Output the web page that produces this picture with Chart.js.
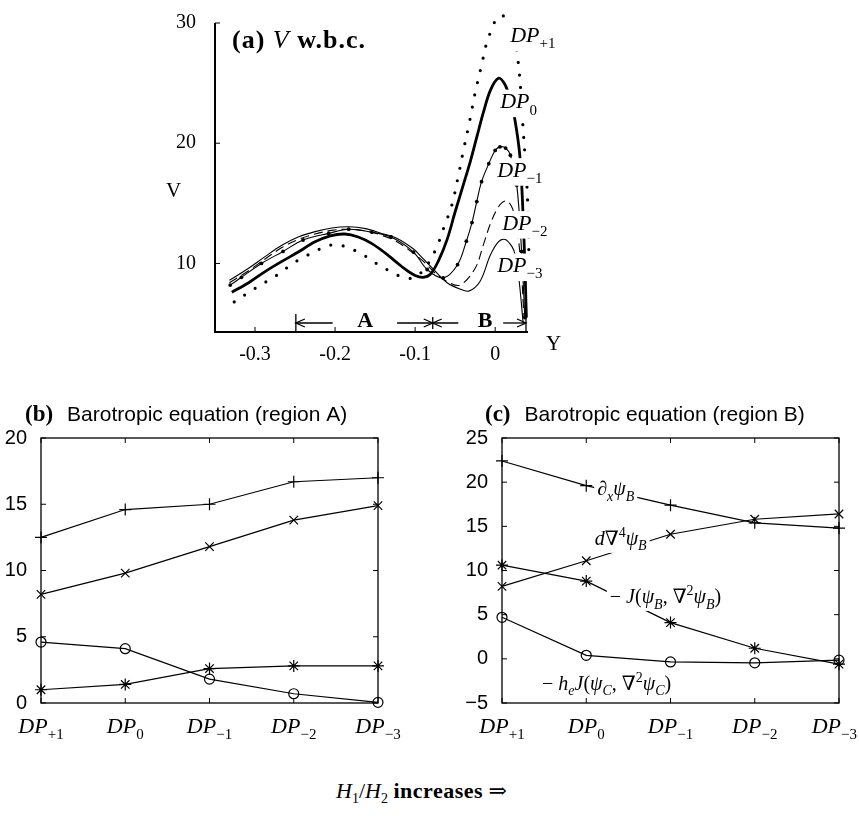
<!DOCTYPE html>
<html>
<head>
<meta charset="utf-8">
<script src="https://cdn.jsdelivr.net/npm/chart.js@4.4.1/dist/chart.umd.min.js"></script>
<style>
  body { margin: 0; background: #fff; }
  #wrap { position: relative; width: 859px; height: 816px; }
  canvas { position: absolute; }
  #caption { position: absolute; left: 336px; top: 778px; font: 22px "Liberation Serif", "DejaVu Serif", serif; white-space: nowrap; }
  #caption sub { font-size: 14px; }
  #caption b { letter-spacing: 0.5px; }
</style>
</head>
<body>
<div id="wrap">
  <canvas id="chartV" width="600" height="365" style="left:0;top:0"></canvas>
  <canvas id="chartA" width="430" height="380" style="left:0;top:380px"></canvas>
  <canvas id="chartB" width="429" height="380" style="left:430px;top:380px"></canvas>
  <div id="caption"><i>H</i><sub>1</sub>/<i>H</i><sub>2</sub> <b>increases</b> &rArr;</div>
</div>
<script>
// panel (a): V profiles across Y
const dpP1Y = [-0.326, -0.310, -0.297, -0.283, -0.271, -0.259, -0.248, -0.237, -0.225, -0.211, -0.197, -0.183, -0.170, -0.157, -0.144, -0.131, -0.117, -0.102, -0.088, -0.074, -0.064, -0.054, -0.046, -0.040, -0.032, -0.025, -0.017, -0.010, -0.004, 0.002, 0.010, 0.021, 0.029, 0.035, 0.040, 0.042, 0.042]
const dpP1V = [6.8, 7.5, 8.05, 8.6, 9.1, 9.7, 10.2, 10.6, 11.0, 11.45, 11.55, 11.3, 10.9, 10.4, 9.8, 9.35, 8.9, 8.8, 9.6, 11.2, 13.0, 14.9, 17.3, 19.3, 21.8, 24.2, 26.5, 28.5, 29.5, 30.4, 30.6, 29.5, 26.6, 21.1, 16.0, 11.0, 6.0]

const dp0Y = [-0.329, -0.308, -0.288, -0.267, -0.246, -0.225, -0.206, -0.188, -0.171, -0.154, -0.138, -0.125, -0.112, -0.100, -0.090, -0.081, -0.071, -0.060, -0.050, -0.040, -0.031, -0.023, -0.015, -0.006, 0.004, 0.012, 0.018, 0.024, 0.031, 0.036, 0.039]
const dp0V = [7.6, 8.4, 9.3, 10.15, 10.95, 11.8, 12.3, 12.45, 12.2, 11.65, 10.9, 10.2, 9.5, 9.0, 8.85, 9.1, 10.2, 12.0, 14.3, 16.5, 18.5, 20.5, 22.5, 24.4, 25.4, 24.9, 23.8, 22.2, 18.8, 12.0, 5.5]

const dpM1Y = [-0.331, -0.317, -0.292, -0.265, -0.240, -0.208, -0.183, -0.154, -0.130, -0.102, -0.085, -0.065, -0.047, -0.036, -0.029, -0.023, -0.017, -0.008, 0.000, 0.006, 0.013, 0.019, 0.027, 0.033, 0.037]
const dpM1V = [8.2, 8.85, 10.0, 11.0, 11.95, 12.5, 12.85, 12.6, 12.2, 10.95, 9.5, 8.8, 9.9, 11.85, 13.4, 15.15, 16.8, 18.3, 19.4, 19.7, 19.6, 19.0, 16.5, 11.0, 5.5]

const dpM2Y = [-0.332, -0.308, -0.288, -0.267, -0.246, -0.225, -0.204, -0.183, -0.162, -0.142, -0.125, -0.105, -0.090, -0.075, -0.060, -0.044, -0.025, -0.015, -0.006, 0.004, 0.013, 0.020, 0.026, 0.032, 0.036]
const dpM2V = [8.4, 9.4, 10.35, 11.3, 12.0, 12.45, 12.75, 12.85, 12.7, 12.35, 11.9, 11.0, 10.2, 9.2, 8.5, 8.2, 9.6, 11.5, 13.3, 14.7, 15.2, 14.8, 13.5, 10.0, 5.5]

const dpM3Y = [-0.332, -0.308, -0.288, -0.267, -0.246, -0.225, -0.204, -0.183, -0.162, -0.142, -0.123, -0.102, -0.090, -0.077, -0.060, -0.045, -0.033, -0.019, -0.006, 0.004, 0.0125, 0.021, 0.025, 0.030, 0.035]
const dpM3V = [8.6, 9.6, 10.55, 11.5, 12.2, 12.65, 12.95, 13.05, 12.9, 12.5, 12.1, 11.2, 10.4, 9.5, 8.4, 7.9, 7.7, 8.5, 10.7, 11.8, 12.0, 11.4, 10.7, 8.5, 5.0]

const vTicks = [10, 20, 30]
const yTicks = [-0.3, -0.2, -0.1, 0]

// panels (b) and (c)
const categories = ['DP+1', 'DP0', 'DP-1', 'DP-2', 'DP-3']
const regionATicks = [0, 5, 10, 15, 20]
const regionBTicks = [-5, 0, 5, 10, 15, 20, 25]

const plusA = [12.5, 14.6, 15.0, 16.7, 17.0]
const crossA = [8.2, 9.8, 11.8, 13.8, 14.9]
const circleA = [4.6, 4.1, 1.8, 0.7, 0.05]
const starA = [1.0, 1.4, 2.6, 2.8, 2.8]

const plusB = [22.4, 19.6, 17.4, 15.4, 14.8] // dx psiB
const crossB = [8.2, 11.1, 14.1, 15.8, 16.4] // d del4 psiB
const starB = [10.6, 8.8, 4.1, 1.2, -0.6] // -J(psiB, del2 psiB)
const circleB = [4.7, 0.4, -0.35, -0.45, -0.15] // -he J(psiC, del2 psiC)

const SERIF = '"Liberation Serif", "DejaVu Serif", serif'
const SANS = '"Liberation Sans", Arial, sans-serif'

// draws text made of pieces: kind = r/i/b (+ prefix s = subscript, p = superscript)
function drawMath (ctx, x, y, parts, size, opts = {}) {
  let w = 0
  const items = parts.map(([text, kind]) => {
    const pos = kind[0] === 's' ? 'sub' : kind[0] === 'p' ? 'sup' : 'main'
    const style = pos === 'main' ? kind : kind.slice(1)
    const fs = pos === 'main' ? size : Math.round(size * 0.68)
    const font = (style.includes('i') ? 'italic ' : '') + (style.includes('b') ? 'bold ' : '') + fs + 'px ' + SERIF
    ctx.font = font
    const it = { text, font, x: w, dy: pos === 'sub' ? size * 0.28 : pos === 'sup' ? -size * 0.38 : 0 }
    w += ctx.measureText(text).width
    return it
  })
  if (opts.align === 'center') x -= w / 2
  if (opts.maxRight !== undefined) x = Math.min(x, opts.maxRight - w)
  if (opts.bg) {
    ctx.fillStyle = '#fff'
    ctx.fillRect(x - 3, y - size * 0.85, w + 6, size * 1.25)
  }
  ctx.fillStyle = '#000'
  ctx.textBaseline = 'alphabetic'
  ctx.textAlign = 'left'
  items.forEach(it => {
    ctx.font = it.font
    ctx.fillText(it.text, x + it.x, y + it.dy)
  })
  return w
}

function dpParts (name) {
  return [['DP', 'i'], [name.slice(2).replace('-', '\u2212'), 'sr']]
}

function line (ctx, x1, y1, x2, y2) {
  ctx.beginPath()
  ctx.moveTo(x1, y1)
  ctx.lineTo(x2, y2)
  ctx.stroke()
}

function arrowHead (ctx, x, y, dir) {
  ctx.beginPath()
  ctx.moveTo(x - dir * 9, y - 4)
  ctx.lineTo(x, y)
  ctx.lineTo(x - dir * 9, y + 4)
  ctx.stroke()
}

const panelV = {
  id: 'panelV',
  afterDraw (chart) {
    const { ctx, chartArea: a, scales } = chart
    const px = v => scales.x.getPixelForValue(v)
    const py = v => scales.y.getPixelForValue(v)
    ctx.save()
    ctx.strokeStyle = '#000'
    ctx.lineWidth = 2
    ctx.beginPath()
    ctx.moveTo(a.left, a.top)
    ctx.lineTo(a.left, a.bottom)
    ctx.lineTo(a.right, a.bottom)
    ctx.stroke()
    ctx.lineWidth = 1
    vTicks.forEach(v => line(ctx, a.left, py(v), a.left + 5, py(v)))
    yTicks.forEach(v => line(ctx, px(v), a.bottom, px(v), a.bottom - 5))

    // region markers A and B
    const ay = py(5.05)
    ctx.lineWidth = 1.3
    line(ctx, px(-0.249), ay, px(-0.203), ay)
    arrowHead(ctx, px(-0.249), ay, -1)
    line(ctx, px(-0.249), a.bottom, px(-0.249), py(5.8))
    line(ctx, px(-0.1225), ay, px(-0.046), ay)
    arrowHead(ctx, px(-0.078), ay, 1)
    arrowHead(ctx, px(-0.078), ay, -1)
    line(ctx, px(-0.078), ay - 6, px(-0.078), ay + 6)
    line(ctx, px(0.010), ay, px(0.0385), ay)
    arrowHead(ctx, px(0.0385), ay, 1)
    line(ctx, px(0.0385), a.bottom, px(0.0385), py(5.8))
    ctx.font = 'bold 22px ' + SERIF
    ctx.fillStyle = '#000'
    ctx.textAlign = 'center'
    ctx.textBaseline = 'middle'
    ctx.fillText('A', px(-0.1625), py(5.22))
    ctx.fillText('B', px(-0.0125), py(5.22))

    // curve names
    const names = [['DP+1', 0.0188, 28.4], ['DP0', 0.0063, 22.9], ['DP-1', 0.0025, 17.2], ['DP-2', 0.0088, 12.8], ['DP-3', 0.0025, 9.27]]
    names.forEach(([n, x, v]) => drawMath(ctx, px(x), py(v), dpParts(n), 22, { bg: true }))

    ctx.letterSpacing = '1px'
    drawMath(ctx, 232, 48, [['(a) ', 'b'], ['V', 'i'], [' w.b.c.', 'b']], 26)
    ctx.letterSpacing = '0px'
    drawMath(ctx, 166, 197, [['V', 'r']], 21)
    drawMath(ctx, 546, 350, [['Y', 'r']], 21)
    ctx.restore()
  }
}

const curves = [
  { y: dpP1Y, v: dpP1V, width: 3.2, dash: [0, 12.5], cap: 'round', dot: 0 },
  { y: dp0Y, v: dp0V, width: 2.8, dash: [], cap: 'butt', dot: 0 },
  { y: dpM1Y, v: dpM1V, width: 1.1, dash: [], cap: 'butt', dot: 1.9 },
  { y: dpM2Y, v: dpM2V, width: 1.1, dash: [9, 5], cap: 'butt', dot: 0 },
  { y: dpM3Y, v: dpM3V, width: 1.1, dash: [], cap: 'butt', dot: 0 }
]

new Chart(document.getElementById('chartV'), {
  type: 'line',
  data: {
    datasets: curves.map(c => ({
      data: c.y.map((y, i) => ({ x: y, y: c.v[i] })),
      borderColor: '#000',
      borderWidth: c.width,
      borderDash: c.dash,
      borderCapStyle: c.cap,
      pointRadius: c.dot,
      pointBorderWidth: 0,
      pointBackgroundColor: '#000',
      tension: 0.35,
      fill: false,
      clip: false
    }))
  },
  options: {
    responsive: false,
    animation: false,
    devicePixelRatio: 1,
    layout: { padding: { top: 12, right: 72, left: 0, bottom: 0 } },
    plugins: { legend: { display: false }, tooltip: { enabled: false } },
    scales: {
      x: {
        type: 'linear',
        min: -0.35,
        max: 0.041,
        afterBuildTicks: s => { s.ticks = yTicks.map(v => ({ value: v })) },
        afterFit: s => { s.height = 33 },
        grid: { display: false },
        border: { display: false },
        ticks: { color: '#000', font: { family: SERIF, size: 20 }, padding: 3, maxRotation: 0, autoSkip: false, callback: v => String(v) }
      },
      y: {
        min: 4.3,
        max: 30,
        afterBuildTicks: s => { s.ticks = vTicks.map(v => ({ value: v })) },
        afterFit: s => { s.width = 215 },
        grid: { display: false },
        border: { display: false },
        ticks: { color: '#000', font: { family: SERIF, size: 20 }, padding: 11 }
      }
    }
  },
  plugins: [panelV]
})

function boxPlugin (yTickValues, drawExtra) {
  return {
    id: 'box',
    afterDraw (chart) {
      const { ctx, chartArea: a, scales } = chart
      ctx.save()
      ctx.strokeStyle = '#000'
      ctx.lineWidth = 1.3
      ctx.strokeRect(a.left, a.top, a.right - a.left, a.bottom - a.top)
      ctx.lineWidth = 1
      yTickValues.forEach(v => {
        const p = scales.y.getPixelForValue(v)
        line(ctx, a.left, p, a.left + 5, p)
        line(ctx, a.right, p, a.right - 5, p)
      })
      categories.forEach((c, i) => {
        const p = scales.x.getPixelForValue(i)
        line(ctx, p, a.bottom, p, a.bottom - 5)
        line(ctx, p, a.top, p, a.top + 5)
        drawMath(ctx, p, a.bottom + 30, dpParts(c), 22, { align: 'center', maxRight: chart.width - 2 })
      })
      drawExtra(ctx, scales)
      ctx.restore()
    }
  }
}

function markerSet (values, style, radius) {
  return {
    data: values,
    borderColor: '#000',
    borderWidth: 1.2,
    pointStyle: style,
    pointRadius: radius,
    pointBorderColor: '#000',
    pointBorderWidth: 1.2,
    pointBackgroundColor: 'rgba(0,0,0,0)',
    tension: 0,
    fill: false,
    clip: false
  }
}

function barotropicOptions (min, max, tickValues, leftWidth, rightPad) {
  return {
    responsive: false,
    animation: false,
    devicePixelRatio: 1,
    layout: { padding: { top: 58, right: rightPad, left: 0, bottom: 0 } },
    plugins: { legend: { display: false }, tooltip: { enabled: false } },
    scales: {
      x: {
        type: 'category',
        offset: false,
        afterFit: s => { s.height = 57 },
        grid: { display: false },
        border: { display: false },
        ticks: { display: false }
      },
      y: {
        min,
        max,
        afterBuildTicks: s => { s.ticks = tickValues.map(v => ({ value: v })) },
        afterFit: s => { s.width = leftWidth },
        grid: { display: false },
        border: { display: false },
        ticks: { color: '#000', font: { family: SANS, size: 20 }, padding: 6, callback: v => String(v).replace('-', '\u2212') }
      }
    }
  }
}

function drawTitle (ctx, x, tag, text) {
  const w = drawMath(ctx, x, 41, [[tag, 'b']], 23)
  ctx.font = '21px ' + SANS
  ctx.fillText(text, x + w + 14, 41)
}

new Chart(document.getElementById('chartA'), {
  type: 'line',
  data: {
    labels: categories,
    datasets: [
      markerSet(plusA, 'cross', 6),
      markerSet(crossA, 'crossRot', 6),
      markerSet(circleA, 'circle', 5),
      markerSet(starA, 'star', 6)
    ]
  },
  options: barotropicOptions(0, 20, regionATicks, 41, 52),
  plugins: [boxPlugin(regionATicks, (ctx) => drawTitle(ctx, 25, '(b)', 'Barotropic equation (region A)'))]
})

new Chart(document.getElementById('chartB'), {
  type: 'line',
  data: {
    labels: categories,
    datasets: [
      markerSet(plusB, 'cross', 6),
      markerSet(crossB, 'crossRot', 6),
      markerSet(starB, 'star', 6),
      markerSet(circleB, 'circle', 5)
    ]
  },
  options: barotropicOptions(-5, 25, regionBTicks, 72, 20),
  plugins: [boxPlugin(regionBTicks, (ctx, s) => {
    const px = v => s.x.getPixelForValue(v)
    const py = v => s.y.getPixelForValue(v)
    drawMath(ctx, px(1.13), py(18.55), [['\u2202', 'i'], ['x', 'si'], ['\u03c8', 'i'], ['B', 'si']], 20, { bg: true })
    drawMath(ctx, px(1.10), py(12.9), [['d', 'i'], ['\u2207', 'r'], ['4', 'pr'], ['\u03c8', 'i'], ['B', 'si']], 20, { bg: true })
    drawMath(ctx, px(1.28), py(6.33), [['\u2212 ', 'r'], ['J', 'i'], ['(', 'r'], ['\u03c8', 'i'], ['B', 'si'], [', ', 'r'], ['\u2207', 'r'], ['2', 'pr'], ['\u03c8', 'i'], ['B', 'si'], [')', 'r']], 20, { bg: true })
    drawMath(ctx, px(0.475), py(-3.5), [['\u2212 ', 'r'], ['h', 'i'], ['e', 'si'], ['J', 'i'], ['(', 'r'], ['\u03c8', 'i'], ['C', 'si'], [', ', 'r'], ['\u2207', 'r'], ['2', 'pr'], ['\u03c8', 'i'], ['C', 'si'], [')', 'r']], 20)
    drawTitle(ctx, 55, '(c)', 'Barotropic equation (region B)')
  })]
})
</script>
</body>
</html>
